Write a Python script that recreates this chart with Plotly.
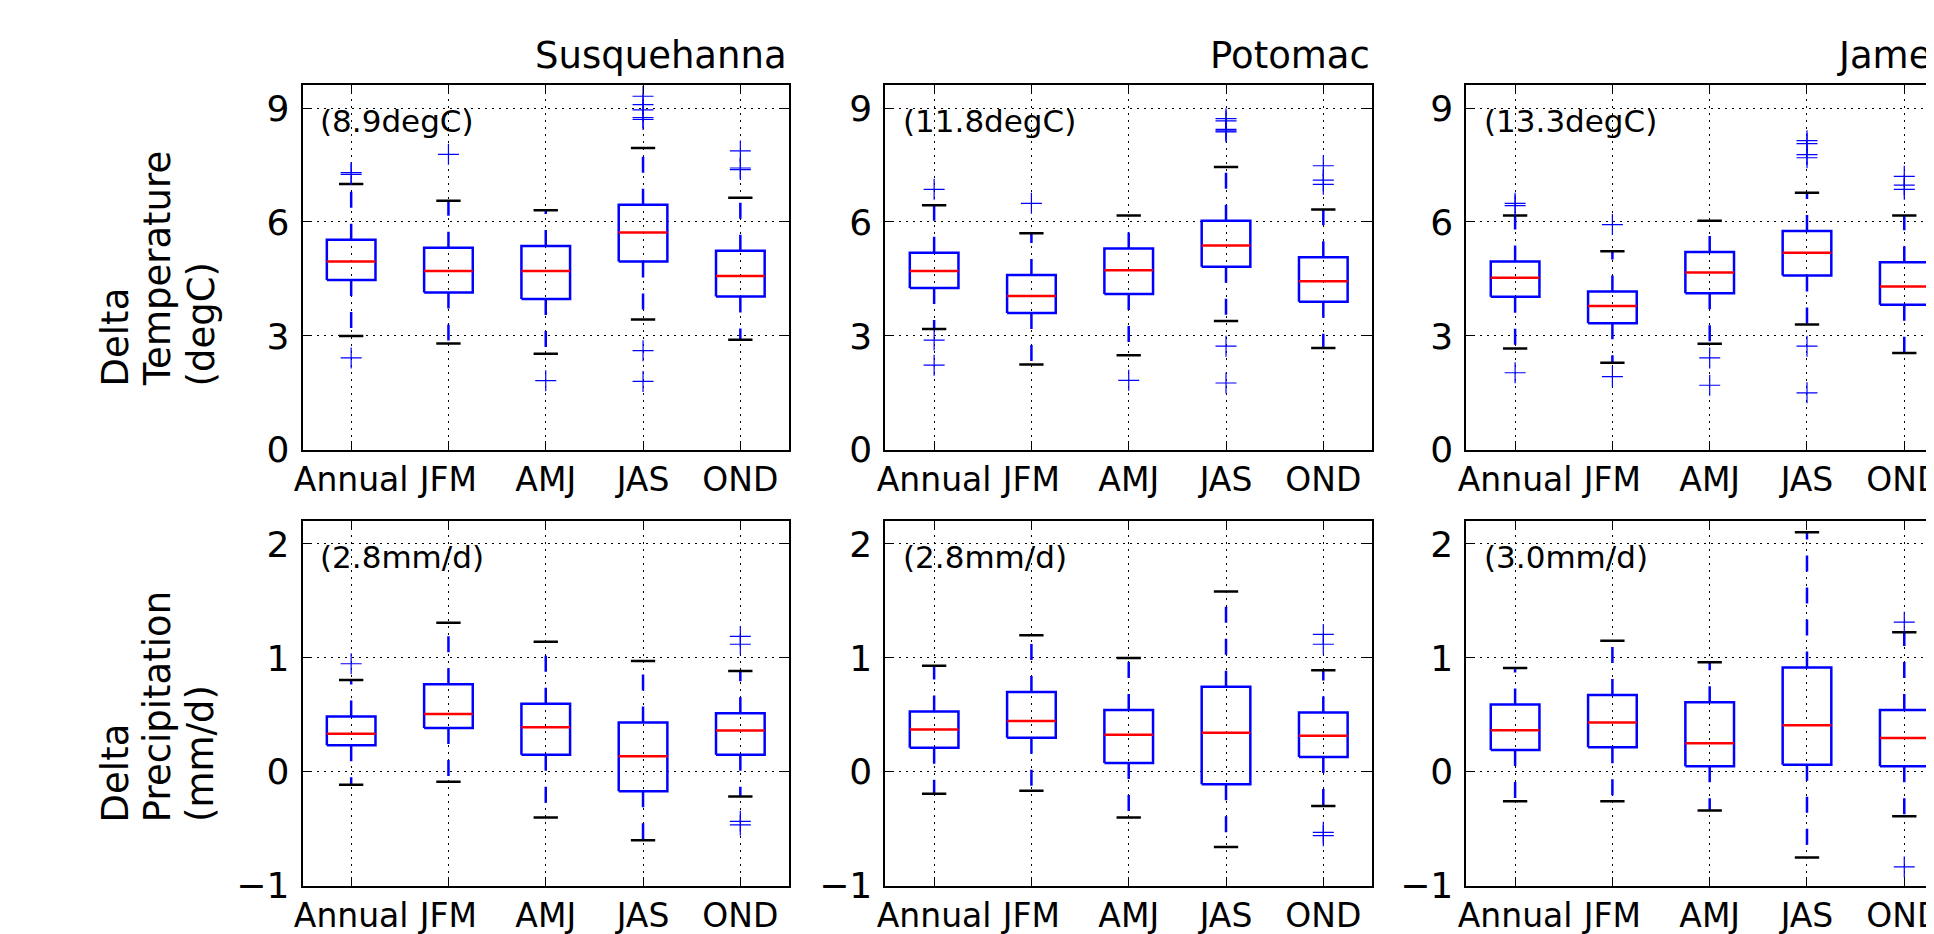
import plotly.graph_objects as go

categories = ["Annual", "JFM", "AMJ", "JAS", "OND"]
basins = ["Susquehanna", "Potomac", "James"]

# ---- Delta temperature (degC): one list per basin, 5 seasons each ----
temp_q1 = [[4.47, 4.14, 3.97, 4.96, 4.04],
           [4.26, 3.60, 4.10, 4.82, 3.90],
           [4.03, 3.33, 4.12, 4.59, 3.82]]
temp_med = [[4.96, 4.71, 4.71, 5.72, 4.58],
            [4.71, 4.05, 4.73, 5.38, 4.44],
            [4.53, 3.79, 4.67, 5.19, 4.30]]
temp_q3 = [[5.53, 5.32, 5.37, 6.45, 5.24],
           [5.19, 4.60, 5.30, 6.03, 5.07],
           [4.96, 4.17, 5.21, 5.76, 4.94]]
temp_lo = [[3.00, 2.80, 2.53, 3.43, 2.90],
           [3.18, 2.25, 2.49, 3.39, 2.68],
           [2.67, 2.29, 2.79, 3.30, 2.55]]
temp_hi = [[7.00, 6.56, 6.31, 7.95, 6.64],
           [6.44, 5.70, 6.17, 7.45, 6.33],
           [6.17, 5.23, 6.03, 6.77, 6.17]]
temp_fliers = [
    [[7.30, 7.25, 2.42], [7.78], [1.82], [9.31, 9.09, 8.95, 8.75, 8.70, 2.61, 1.80], [7.87, 7.42, 7.38]],
    [[6.86, 2.89, 2.23], [6.49], [1.83], [8.72, 8.66, 8.44, 8.40, 8.37, 2.73, 1.76], [7.48, 7.10, 6.99]],
    [[6.49, 6.43, 2.03], [5.93, 1.93], [2.42, 1.70], [8.14, 8.06, 7.77, 7.69, 2.73, 1.50], [7.20, 6.97, 6.86]],
]
temp_base = ["(8.9degC)", "(11.8degC)", "(13.3degC)"]

# ---- Delta precipitation (mm/d) ----
prcp_q1 = [[0.234, 0.386, 0.151, -0.169, 0.151],
           [0.211, 0.300, 0.077, -0.109, 0.131],
           [0.191, 0.217, 0.049, 0.063, 0.049]]
prcp_med = [[0.334, 0.509, 0.391, 0.137, 0.363],
            [0.371, 0.446, 0.326, 0.343, 0.317],
            [0.366, 0.434, 0.251, 0.409, 0.297]]
prcp_q3 = [[0.486, 0.769, 0.597, 0.434, 0.514],
           [0.529, 0.700, 0.543, 0.746, 0.520],
           [0.591, 0.674, 0.611, 0.917, 0.543]]
prcp_lo = [[-0.114, -0.086, -0.400, -0.600, -0.217],
           [-0.191, -0.166, -0.400, -0.660, -0.300],
           [-0.257, -0.257, -0.340, -0.751, -0.389]]
prcp_hi = [[0.806, 1.309, 1.143, 0.974, 0.886],
           [0.931, 1.200, 1.000, 1.583, 0.891],
           [0.911, 1.151, 0.963, 2.103, 1.226]]
prcp_fliers = [
    [[0.949], [], [], [], [1.189, 1.120, -0.434, -0.466]],
    [[], [], [], [], [1.206, 1.120, -0.531, -0.560]],
    [[], [], [], [], [1.314, -0.834]],
]
prcp_base = ["(2.8mm/d)", "(2.8mm/d)", "(3.0mm/d)"]

temp_ticks = [0, 3, 6, 9]
prcp_ticks = [-1, 0, 1, 2]

# ---- layout (pixels) ----
W, H = 1934, 934
col_px = [(288, 777), (874, 1363), (1458, 1947)]
row_px = [(79, 452), (525, 898)]
FONT = "DejaVu Sans"
BLUE = "#0000ff"
LW = 2.5

fig = go.Figure()

rows = [
    (temp_q1, temp_med, temp_q3, temp_lo, temp_hi, temp_fliers, temp_base, [0, 9.6], temp_ticks, 9),
    (prcp_q1, prcp_med, prcp_q3, prcp_lo, prcp_hi, prcp_fliers, prcp_base, [-1, 2.2], prcp_ticks, 2),
]

ax = 0
for r, (Q1, MED, Q3, LO, HI, FL, BASE, yrange, yticks, ytop) in enumerate(rows):
    for c in range(3):
        ax += 1
        xa = "x" if ax == 1 else f"x{ax}"
        ya = "y" if ax == 1 else f"y{ax}"
        pos = list(range(1, len(categories) + 1))
        wx, bx, mx, cx, fx, fy = [], [], [], [], [], []
        wy, by, my, cy = [], [], [], []
        for i, p in enumerate(pos):
            q1, md, q3, lo, hi = Q1[c][i], MED[c][i], Q3[c][i], LO[c][i], HI[c][i]
            wx += [p, p, None, p, p, None]
            wy += [q3, hi, None, q1, lo, None]
            bx += [p - 0.25, p + 0.25, p + 0.25, p - 0.25, p - 0.25, None]
            by += [q1, q1, q3, q3, q1, None]
            mx += [p - 0.25, p + 0.25, None]
            my += [md, md, None]
            cx += [p - 0.125, p + 0.125, None, p - 0.125, p + 0.125, None]
            cy += [hi, hi, None, lo, lo, None]
            for v in FL[c][i]:
                fx.append(p)
                fy.append(v)
        common = dict(xaxis=xa, yaxis=ya, showlegend=False, hoverinfo="skip")
        fig.add_trace(go.Scatter(x=wx, y=wy, mode="lines",
                                 line=dict(color=BLUE, width=LW, dash="16px,16px"), **common))
        fig.add_trace(go.Scatter(x=bx, y=by, mode="lines",
                                 line=dict(color=BLUE, width=LW), **common))
        fig.add_trace(go.Scatter(x=mx, y=my, mode="lines",
                                 line=dict(color="#ff0000", width=LW), **common))
        fig.add_trace(go.Scatter(x=cx, y=cy, mode="lines",
                                 line=dict(color="black", width=LW), **common))
        fig.add_trace(go.Scatter(x=fx, y=fy, mode="markers",
                                 marker=dict(symbol="cross-thin", size=15,
                                             line=dict(color=BLUE, width=1.2)), **common))

        x0, x1 = col_px[c]
        y0, y1 = row_px[r]
        xr = [0.5, 5.5]
        xd1 = x1
        if x1 > W:
            xd1 = W
            xr = [0.5, 0.5 + 5.0 * (W - x0) / (x1 - x0)]
        axis_common = dict(
            showline=True, linecolor="black", linewidth=2,
            ticks="inside", ticklen=9, tickwidth=1, tickcolor="black",
            showgrid=True, gridcolor="black", gridwidth=1, griddash="2px,5px",
            zeroline=False, ticklabeloverflow="allow",
        )
        fig.layout[xa.replace("x", "xaxis")] = dict(
            domain=[x0 / W, xd1 / W], range=xr, anchor=ya,
            tickmode="array", tickvals=pos, ticktext=categories,
            tickfont=dict(family=FONT, size=33, color="black"),
            ticklabelstandoff=0,
            mirror="ticks", **axis_common)
        fig.layout[ya.replace("y", "yaxis")] = dict(
            domain=[1 - y1 / H, 1 - y0 / H], range=yrange, anchor=xa,
            tickmode="array", tickvals=yticks,
            ticktext=[("\u2212" + str(-t)) if t < 0 else str(t) for t in yticks],
            tickfont=dict(family=FONT, size=36, color="black"),
            ticklabelstandoff=4,
            mirror=("ticks" if x1 <= W else False), **axis_common)

        fig.add_annotation(xref=xa, yref=ya, x=0.66, y=ytop, text=BASE[c],
                           xanchor="left", yanchor="top", yshift=7, showarrow=False,
                           font=dict(family=FONT, size=31, color="black"))
        if r == 0:
            fig.add_annotation(xref="paper", yref="paper", x=x1 / W, y=1 - y0 / H,
                               text=basins[c], xanchor="right", yanchor="bottom",
                               yshift=6, showarrow=False,
                               font=dict(family=FONT, size=37, color="black"))

ylabels = [["Delta", "Temperature", "(degC)"], ["Delta", "Precipitation", "(mm/d)"]]
line_x = [100, 143, 186]
for r, lines in enumerate(ylabels):
    y0, y1 = row_px[r]
    ybot = y0 + 0.66 * (y1 - y0) + 64
    for k, lab in enumerate(lines):
        fig.add_annotation(xref="paper", yref="paper", x=line_x[k] / W, y=1 - ybot / H,
                           text=lab, textangle=-90, xanchor="center", yanchor="bottom",
                           showarrow=False,
                           font=dict(family=FONT, size=37, color="black"))

fig.update_layout(width=W, height=H, margin=dict(l=0, r=0, t=0, b=0),
                  paper_bgcolor="white", plot_bgcolor="white")
fig.write_html("out.html")
